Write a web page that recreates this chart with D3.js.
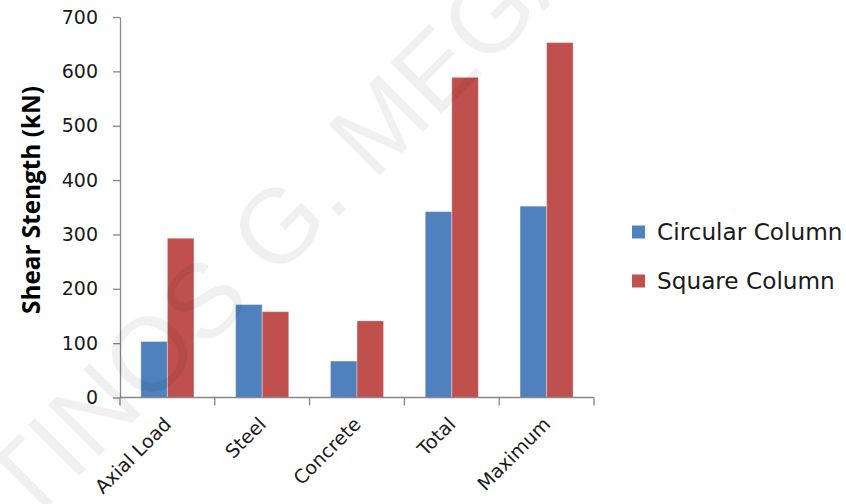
<!DOCTYPE html>
<html>
<head>
<meta charset="utf-8">
<script src="https://cdn.jsdelivr.net/npm/d3@7/dist/d3.min.js"></script>
<style>
  html, body { margin: 0; padding: 0; background: #ffffff; }
  svg { display: block; }
</style>
</head>
<body>
<svg id="chart" width="846" height="504"></svg>
<script>
// Shear strength components per column type (kN)
const categories = ["Axial Load", "Steel", "Concrete", "Total", "Maximum"];
const seriesNames = ["Circular Column", "Square Column"];
const circularValues = [103, 171, 67, 342, 352];
const squareValues = [293, 158, 141, 589, 653];
const yTicks = [0, 100, 200, 300, 400, 500, 600, 700];
const yTitle = "Shear Stength (kN)";
const watermarkText = "TINOS G. MEGA";

const colors = { "Circular Column": "#4f81bd", "Square Column": "#c0504d" };
const values = { "Circular Column": circularValues, "Square Column": squareValues };

const svg = d3.select("#chart");
const plot = { left: 120, right: 594, top: 17, bottom: 397.5 };
const axisColor = "#878787";
const textColor = "#1a1a1a";

const x = d3.scaleBand()
  .domain(categories)
  .range([plot.left, plot.right])
  .paddingInner(0.44)
  .paddingOuter(0.22);

const xSeries = d3.scaleBand()
  .domain(seriesNames)
  .range([0, x.bandwidth()]);

const y = d3.scaleLinear()
  .domain([0, 700])
  .range([plot.bottom, plot.top]);

// Bars
const rows = categories.map((c, i) => ({
  category: c,
  items: seriesNames.map(s => ({ series: s, value: values[s][i] }))
}));

svg.append("g")
  .selectAll("g")
  .data(rows)
  .join("g")
  .attr("transform", d => `translate(${x(d.category)},0)`)
  .selectAll("rect")
  .data(d => d.items)
  .join("rect")
  .attr("x", d => xSeries(d.series))
  .attr("y", d => y(d.value))
  .attr("width", xSeries.bandwidth())
  .attr("height", d => y(0) - y(d.value))
  .attr("fill", d => colors[d.series])
  .attr("stroke", "rgba(255,255,255,0.35)")
  .attr("stroke-width", 1);

// Y axis
const yAxis = svg.append("g")
  .attr("transform", `translate(${plot.left},0)`)
  .call(d3.axisLeft(y).tickValues(yTicks).tickSize(7).tickPadding(15).tickSizeOuter(0));
yAxis.select(".domain").attr("stroke", axisColor).attr("stroke-width", 1.3);
yAxis.selectAll(".tick line").attr("stroke", axisColor).attr("stroke-width", 1.3);
yAxis.selectAll(".tick text")
  .attr("font-family", "DejaVu Sans")
  .attr("font-size", 19)
  .attr("fill", textColor);

// X axis: line along zero with ticks at category boundaries
const half = x.step() * x.paddingInner() / 2;
const boundaries = categories.map(c => x(c) - half).concat([x(categories[categories.length - 1]) + x.bandwidth() + half]);
const xAxis = svg.append("g");
xAxis.append("line")
  .attr("x1", plot.left).attr("x2", boundaries[boundaries.length - 1])
  .attr("y1", y(0)).attr("y2", y(0))
  .attr("stroke", axisColor).attr("stroke-width", 1.3);
xAxis.selectAll("line.tk")
  .data(boundaries)
  .join("line")
  .attr("class", "tk")
  .attr("x1", d => d).attr("x2", d => d)
  .attr("y1", y(0)).attr("y2", y(0) + 8)
  .attr("stroke", axisColor).attr("stroke-width", 1.3);

xAxis.selectAll("text")
  .data(categories)
  .join("text")
  .attr("transform", d => `translate(${x(d) + x.bandwidth() / 2 + 5},${y(0) + 28}) rotate(-45)`)
  .attr("text-anchor", "end")
  .attr("font-family", "DejaVu Sans")
  .attr("font-size", 19)
  .attr("fill", textColor)
  .text(d => d);

// Y axis title
svg.append("text")
  .attr("transform", `translate(39.5,200) rotate(-90)`)
  .attr("text-anchor", "middle")
  .attr("font-family", "Open Sans")
  .attr("font-weight", "bold")
  .attr("font-size", 24.3)
  .attr("fill", "#000")
  .text(yTitle);

// Legend
const legend = svg.append("g")
  .selectAll("g")
  .data(seriesNames)
  .join("g")
  .attr("transform", (d, i) => `translate(632,${232 + i * 49})`);
legend.append("rect")
  .attr("x", 0).attr("y", -6.5)
  .attr("width", 13).attr("height", 13)
  .attr("fill", d => colors[d]);
legend.append("text")
  .attr("x", 25).attr("y", 8)
  .attr("font-family", "DejaVu Sans")
  .attr("font-size", 23.2)
  .attr("fill", textColor)
  .text(d => d);

// Faint diagonal watermark over the plot
svg.append("text")
  .attr("transform", "translate(27,528) rotate(-45)")
  .attr("font-family", "Liberation Sans")
  .attr("font-size", 105)
  .attr("fill", "#000")
  .attr("fill-opacity", 0.06)
  .text(watermarkText);
</script>
</body>
</html>
